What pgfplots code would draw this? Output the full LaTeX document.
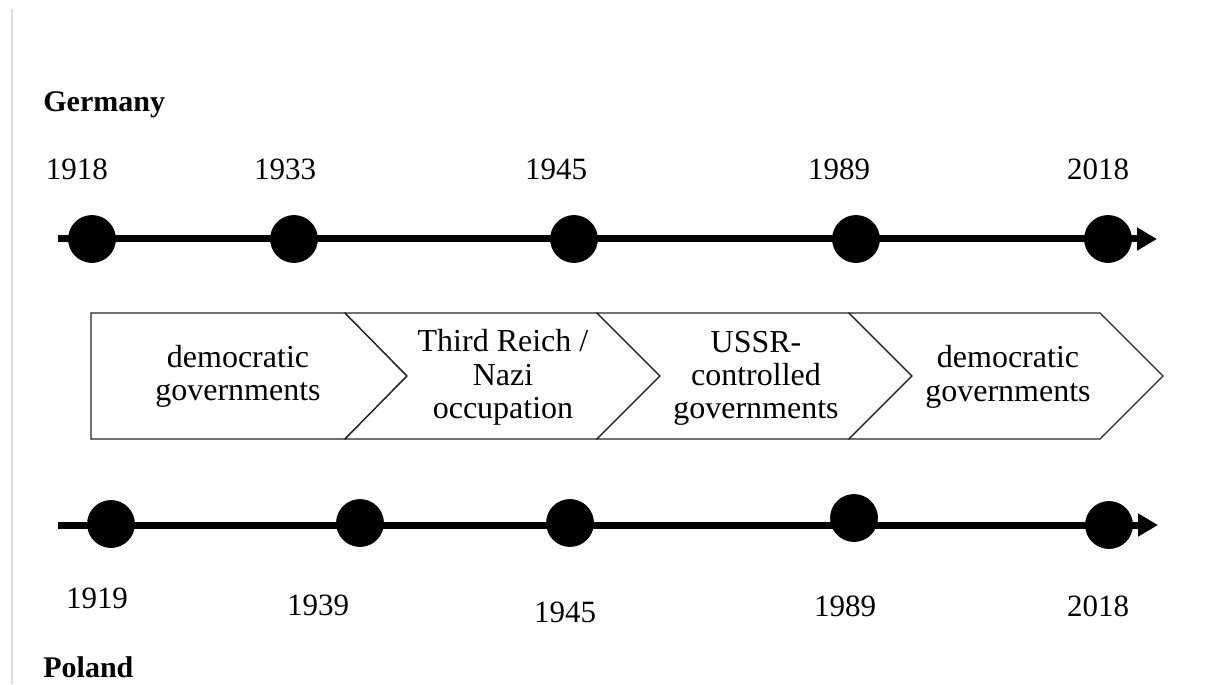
\documentclass[border=0pt]{standalone}
\usepackage{pgfplots}
\pgfplotsset{compat=1.18}
\usepackage{fontspec}
\setmainfont{Liberation Serif}
\usetikzlibrary{arrows.meta}
\begin{document}
\begin{tikzpicture}
\begin{axis}[
  x=0.5pt, y=0.5pt, y dir=reverse,
  xmin=0, xmax=1217, ymin=0, ymax=684,
  hide axis, clip=false,
  scale only axis,
]
\path (rel axis cs:0,0) rectangle (rel axis cs:1,1);
% left gray rule
\addplot[draw=black!13, line width=0.8pt] coordinates {(12,9) (12,684)};
% Germany timeline
\addplot[black, line width=3.5pt, -{Triangle[length=10pt,width=11pt]}] coordinates {(58,239) (1157,239)};
\addplot[only marks, mark=*, mark size=11.75pt, black] coordinates {(92,239) (294,239) (574,239) (856,239) (1108,239)};
% Poland timeline
\addplot[black, line width=3.5pt, -{Triangle[length=10pt,width=11pt]}] coordinates {(58,525) (1158,525)};
\addplot[only marks, mark=*, mark size=11.75pt, black] coordinates {(111,524) (360,523) (570,523) (854,518) (1109,525)};
% chevrons
\addplot[draw=black!85, line width=0.7pt, fill=white] coordinates {(91,313) (345,313) (407,376) (345,439) (91,439)} -- cycle;
\addplot[draw=black!85, line width=0.7pt, fill=white] coordinates {(345,313) (597,313) (660,376) (597,439) (345,439) (407,376)} -- cycle;
\addplot[draw=black!85, line width=0.7pt, fill=white] coordinates {(597,313) (849,313) (912,376) (849,439) (597,439) (660,376)} -- cycle;
\addplot[draw=black!85, line width=0.7pt, fill=white] coordinates {(849,313) (1100,313) (1163,376) (1100,439) (849,439) (912,376)} -- cycle;
% country labels
\node[anchor=base west, inner sep=0pt, font=\fontsize{15}{18}\selectfont\bfseries] at (axis cs:43,112) {Germany};
\node[anchor=base west, inner sep=0pt, font=\fontsize{15}{18}\selectfont\bfseries] at (axis cs:43,677) {Poland};
% years top
\tikzset{yr/.style={anchor=base, inner sep=0pt, font=\fontsize{15.5}{18}\selectfont}}
\node[yr] at (axis cs:77,180) {1918};
\node[yr] at (axis cs:285,180) {1933};
\node[yr] at (axis cs:556,180) {1945};
\node[yr] at (axis cs:839,180) {1989};
\node[yr] at (axis cs:1098,180) {2018};
% years bottom
\node[yr] at (axis cs:97,608) {1919};
\node[yr] at (axis cs:318,615) {1939};
\node[yr] at (axis cs:565,622) {1945};
\node[yr] at (axis cs:845,616) {1989};
\node[yr] at (axis cs:1098,616) {2018};
% chevron texts
\tikzset{ct/.style={anchor=base, inner sep=0pt, font=\fontsize{16}{18}\selectfont}}
\node[ct] at (axis cs:238,367) {democratic};
\node[ct] at (axis cs:238,400) {governments};
\node[ct] at (axis cs:503,351) {Third Reich /};
\node[ct] at (axis cs:503,385) {Nazi};
\node[ct] at (axis cs:503,418) {occupation};
\node[ct] at (axis cs:756,352) {USSR-};
\node[ct] at (axis cs:756,385) {controlled};
\node[ct] at (axis cs:756,418) {governments};
\node[ct] at (axis cs:1008,367) {democratic};
\node[ct] at (axis cs:1008,401) {governments};
\end{axis}
\end{tikzpicture}
\end{document}
